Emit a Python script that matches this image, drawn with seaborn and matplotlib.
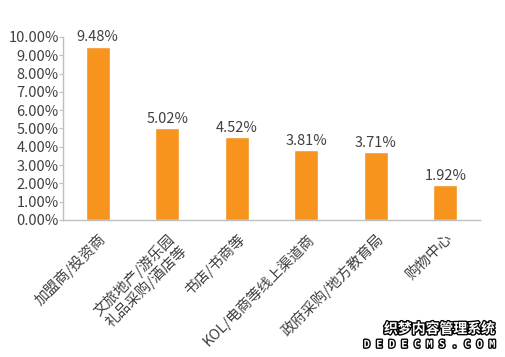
# Share of customer channels — bar chart with percentage labels

import numpy as np
import pandas as pd
import matplotlib.pyplot as plt
import matplotlib.patheffects as pe
import seaborn as sns

categories = [
    "加盟商/投资商",
    "文旅地产/游乐园\n礼品采购/酒店等",
    "书店/书商等",
    "KOL/电商等线上渠道商",
    "政府采购/地方教育局",
    "购物中心",
]
shares = [9.48, 5.02, 4.52, 3.81, 3.71, 1.92]
y_ticks = [0, 1, 2, 3, 4, 5, 6, 7, 8, 9, 10]

df = pd.DataFrame({"category": categories, "share": shares})

sns.set_style("white")
plt.rcParams["font.family"] = ["Noto Sans CJK SC", "DejaVu Sans"]

text_color = "#404040"
bar_color = "#F7941D"
axis_color = "#BFBFBF"

fig = plt.figure(figsize=(5.05, 3.57), dpi=100)
ax = fig.add_axes([0.1248, 0.3838, 0.8257, 0.5126])

sns.barplot(data=df, x="category", y="share", color=bar_color,
            saturation=1, width=0.35, ax=ax)

for i, v in enumerate(shares):
    ax.text(i, v + 0.12, f"{v:.2f}%", ha="center", va="bottom",
            fontsize=10.5, color=text_color)

ax.set_ylim(0, 10)
ax.set_yticks(y_ticks)
ax.set_yticklabels([f"{t:.2f}%" for t in y_ticks], fontsize=10.5, color=text_color)
ax.set_xlim(-0.5, len(categories) - 0.5)
ax.set_xticks(range(len(categories)))
ax.set_xticklabels(categories, rotation=45, ha="right", rotation_mode="anchor",
                   fontsize=10.5, color=text_color, linespacing=1.0)
ax.set_xticks(np.arange(-0.5, len(categories)), minor=True)
ax.tick_params(axis="x", which="major", length=0, pad=8)
ax.tick_params(axis="x", which="minor", length=3, color=axis_color, direction="out")
ax.tick_params(axis="y", length=3, color=axis_color, direction="out", pad=0,
               left=True)
ax.set_xlabel("")
ax.set_ylabel("")

for side in ["top", "right"]:
    ax.spines[side].set_visible(False)
for side in ["left", "bottom"]:
    ax.spines[side].set_color(axis_color)
    ax.spines[side].set_linewidth(1)

outline = [pe.withStroke(linewidth=2, foreground="black")]
fig.text(0.98, 0.078, "织梦内容管理系统", ha="right", va="center",
         fontsize=10, color="white", fontweight="bold", path_effects=outline)
fig.text(0.98, 0.035, "D E D E C M S . C O M", ha="right", va="center",
         fontsize=7.5, color="white", fontweight="bold",
         family="DejaVu Sans Mono", path_effects=outline)

fig.savefig("out.png", dpi=100)
